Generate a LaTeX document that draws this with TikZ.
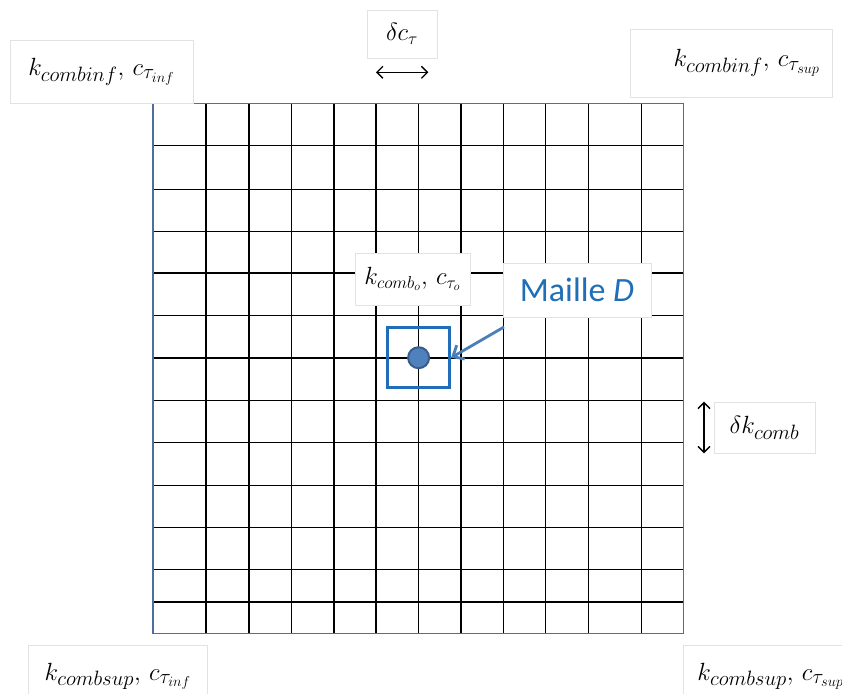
\documentclass[tikz,border=0pt]{standalone}
\usepackage{amsmath,amssymb}
\usepackage[no-math]{fontspec}
\setmainfont{Carlito}
\usetikzlibrary{arrows.meta,positioning}
\definecolor{gridblue}{RGB}{79,110,155}
\definecolor{mailleblue}{RGB}{31,110,183}
\definecolor{dotfill}{RGB}{79,129,189}
\definecolor{dotline}{RGB}{56,93,138}
\definecolor{arrowblue}{RGB}{74,126,187}
\definecolor{boxgray}{RGB}{226,226,226}
\tikzset{
  labelbox/.style={draw=boxgray,fill=white,line width=0.8pt,inner sep=0pt,font=\fontsize{29}{33}\selectfont},
  dblarrow/.style={{Straight Barb[length=6pt,width=12pt]}-{Straight Barb[length=6pt,width=12pt]},line width=1.3pt},
}

\begin{document}
\begin{tikzpicture}[x=1pt,y=-1pt]
    \useasboundingbox (0,0) rectangle (842,693);
    % mesh
    \foreach \gx in {206.1,248.9,291.8,333.9,376.1,418.6,461.1,503.2,545.4,588.2,641.8}
      \draw[line width=1.3pt] (\gx,103.5)--(\gx,633.5);
    \foreach \gy in {145.4,189.3,231.4,273.1,315.5,358.0,400.8,442.5,485.3,527.7,569.8,602.1}
      \draw[line width=1.3pt] (153,\gy)--(683.5,\gy);
    \draw[gridblue,line width=1.5pt] (153,103.5) rectangle (683.5,633.5);
    % corner labels
    \node[labelbox,minimum width=183,minimum height=63] (infinf) at (101.5,71.5) {$k_{combinf},\,c_{\tau_{inf}}$};
    \node[labelbox,text width=178pt,align=right,inner xsep=12pt,minimum height=68] (infsup) at (731,63) {$k_{combinf},\,c_{\tau_{sup}}$};
    \node[labelbox,minimum width=179,minimum height=62,anchor=north west] (supinf) at (28,645) {$k_{combsup},\,c_{\tau_{inf}}$};
    \node[labelbox,minimum height=62,inner xsep=14pt,anchor=north west] (supsup) at (683,645) {$k_{combsup},\,c_{\tau_{sup}}$};
    % steps
    \node[labelbox,minimum width=70,minimum height=48,font=\fontsize{26}{30}\selectfont] (dctau) at (402,34) {$\delta c_\tau$};
    \coordinate (dcl) at (376,72.3);
    \coordinate (dcr) at (428.3,72.3);
    \draw[dblarrow] (dcl)--(dcr);
    \node[labelbox,minimum width=101,minimum height=51,font=\fontsize{32}{36}\selectfont] (dkcomb) at (764.5,427.5) {$\delta k_{comb}$};
    \coordinate (dkt) at (704,401.7);
    \coordinate (dkb) at (704,453.3);
    \draw[dblarrow] (dkt)--(dkb);
    % cell D
    \node[labelbox,minimum width=115,minimum height=52,font=\fontsize{25}{29}\selectfont] (kzero) at (412.5,279) {$k_{comb_o},\,c_{\tau_o}$};
    \node[draw=mailleblue,line width=3pt,minimum width=62,minimum height=60,inner sep=0pt] (cell) at (418.6,357.7) {};
    \node[circle,fill=dotfill,draw=dotline,line width=2pt,minimum size=21,inner sep=0pt] (centre) at (418.6,357.7) {};
    \node[labelbox,minimum width=148,minimum height=54,text=mailleblue,font=\fontsize{34}{38}\selectfont] (maille) at (577,290) {Maille \textit{D}};
    \coordinate (tail) at (504,327);
    \draw[arrowblue,line width=2.8pt,-{Straight Barb[length=9pt,width=16pt]}] (tail)--(cell.east);
\end{tikzpicture}
\end{document}
